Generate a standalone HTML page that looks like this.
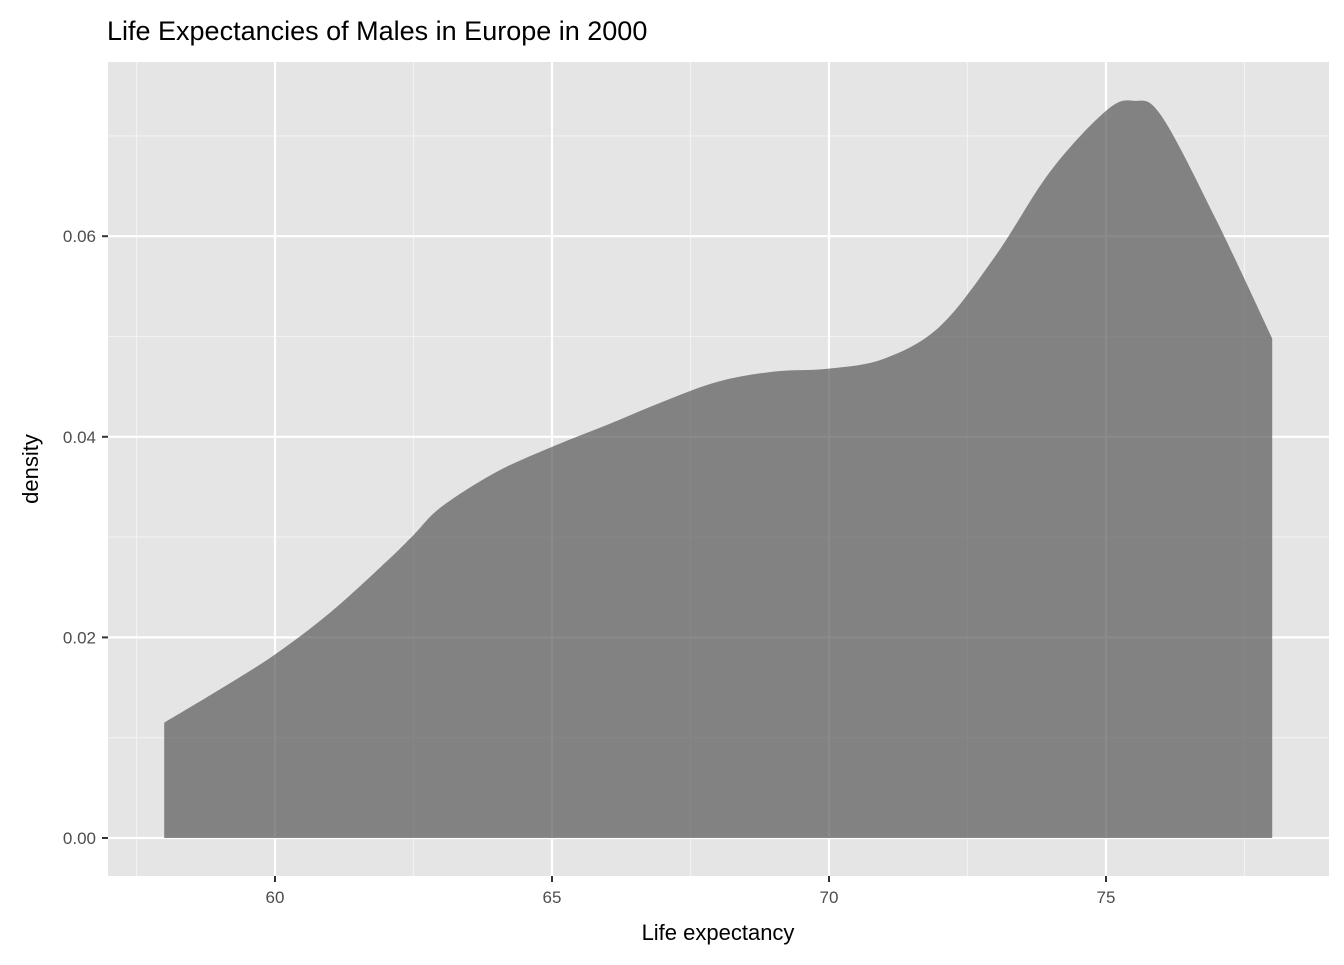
<!DOCTYPE html>
<html><head><meta charset="utf-8"><style>
body{margin:0;background:#fff;font-family:"Liberation Sans",sans-serif}
</style></head><body>
<svg id="chart" width="1344" height="960" xmlns="http://www.w3.org/2000/svg">
<text x="107" y="40" font-size="27" fill="#000">Life Expectancies of Males in Europe in 2000</text>
<rect x="108" y="62" width="1221" height="814" fill="#E5E5E5"/>
<g id="grid"></g>
<g id="marks"></g>
<g id="axes"></g>
<text x="718" y="940" font-size="22" text-anchor="middle" fill="#000">Life expectancy</text>
<text transform="translate(38,469) rotate(-90)" font-size="22" text-anchor="middle" fill="#000">density</text>
</svg>
<script>
const xs = [58,59,60,61,62,62.5,63,64,65,66,67,68,69,70,71,72,73,74,75,75.5,76,77,78];
const dens = [0.0115,0.0148,0.0183,0.0225,0.0275,0.0302,0.033,0.0365,0.039,0.0412,0.0435,0.0455,0.0465,0.0468,0.0478,0.051,0.058,0.0665,0.0725,0.0735,0.072,0.0615,0.0498];
const xTicks = [60,65,70,75];
const xMinor = [57.5,62.5,67.5,72.5,77.5];
const yTicks = [0,0.02,0.04,0.06];
const yMinor = [0.01,0.03,0.05,0.07];
const yLabels = ["0.00","0.02","0.04","0.06"];
const X = v => 275 + (v-60)*55.4;
const Y = v => 838 - v*10030;
const NS="http://www.w3.org/2000/svg";
const grid=document.getElementById('grid'), marks=document.getElementById('marks'), axes=document.getElementById('axes');
function ln(p,x1,y1,x2,y2,w,c){const l=document.createElementNS(NS,'line');l.setAttribute('x1',x1);l.setAttribute('y1',y1);l.setAttribute('x2',x2);l.setAttribute('y2',y2);l.setAttribute('stroke',c);l.setAttribute('stroke-width',w);p.appendChild(l);return l;}
function tx(p,x,y,s,a){const t=document.createElementNS(NS,'text');t.setAttribute('x',x);t.setAttribute('y',y);t.setAttribute('font-size','17');t.setAttribute('fill','#4D4D4D');t.setAttribute('text-anchor',a);t.textContent=s;p.appendChild(t);return t;}
xMinor.forEach(v=>{const l=ln(grid,X(v),62,X(v),876,1.1,'#F2F2F2');

});
yMinor.forEach(v=>{const l=ln(grid,108,Y(v),1329,Y(v),1.1,'#F2F2F2');

});
xTicks.forEach(v=>{const l=ln(grid,X(v),62,X(v),876,2.2,'#fff');


const k=ln(axes,X(v),876,X(v),882,2,'#333');


const t=tx(axes,X(v),903,String(v),'middle');

});
yTicks.forEach((v,i)=>{const l=ln(grid,108,Y(v),1329,Y(v),2.2,'#fff');


const k=ln(axes,102,Y(v),108,Y(v),2,'#333');


const t=tx(axes,96,Y(v)+6,yLabels[i],'end');

});
// smooth path via Catmull-Rom
const pts=xs.map((x,i)=>[X(x),Y(dens[i])]);
let d=`M${X(xs[0])},${Y(0)} L${pts[0][0]},${pts[0][1]}`;
for(let i=0;i<pts.length-1;i++){const p0=pts[Math.max(0,i-1)],p1=pts[i],p2=pts[i+1],p3=pts[Math.min(pts.length-1,i+2)];
d+=` C${p1[0]+(p2[0]-p0[0])/6},${p1[1]+(p2[1]-p0[1])/6} ${p2[0]-(p3[0]-p1[0])/6},${p2[1]-(p3[1]-p1[1])/6} ${p2[0]},${p2[1]}`;}
d+=` L${X(xs[xs.length-1])},${Y(0)} Z`;
const area=document.createElementNS(NS,'path');
area.setAttribute('d',d);area.setAttribute('fill','#595959');area.setAttribute('fill-opacity','0.7');


marks.appendChild(area);
</script>
</body></html>
